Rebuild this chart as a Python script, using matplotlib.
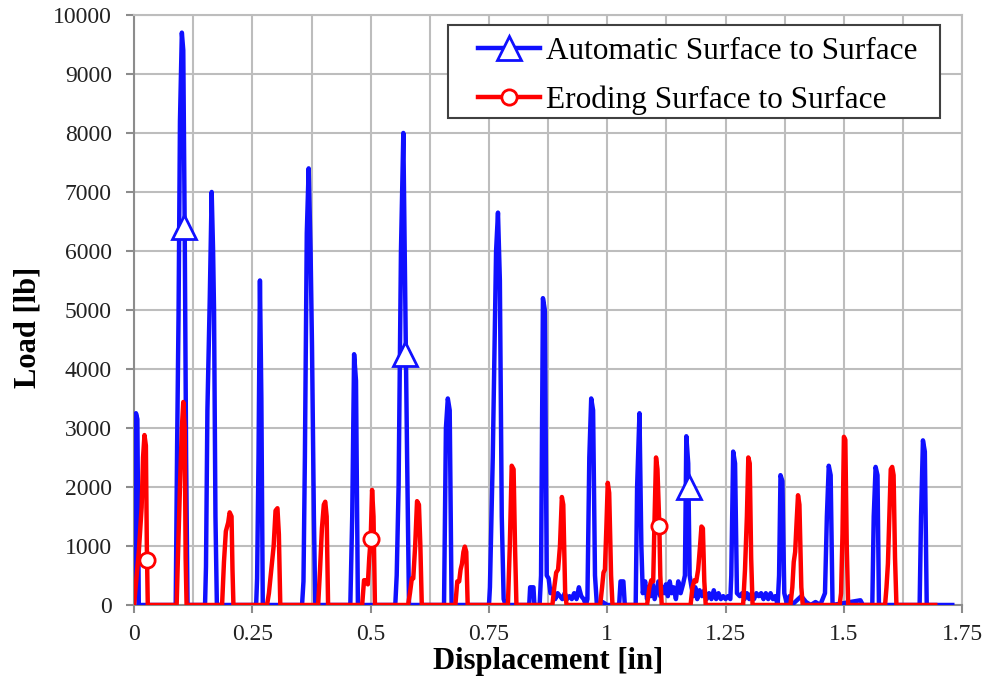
import matplotlib
matplotlib.use("Agg")
import matplotlib.pyplot as plt
from matplotlib.patches import Rectangle
from matplotlib.ticker import MultipleLocator, FuncFormatter

# Automatic Surface to Surface contact (blue)
auto_x = [0.000, 0.002, 0.004, 0.007, 0.010,
          0.088, 0.091, 0.094, 0.097, 0.101, 0.104, 0.107, 0.110, 0.113,
          0.150, 0.152, 0.155, 0.160, 0.164, 0.167, 0.169, 0.172, 0.175,
          0.258, 0.260, 0.263, 0.266, 0.269, 0.272,
          0.355, 0.358, 0.361, 0.365, 0.369, 0.373, 0.376, 0.380, 0.383,
          0.457, 0.461, 0.465, 0.469, 0.473,
          0.552, 0.555, 0.559, 0.564, 0.569, 0.573, 0.577, 0.581,
          0.655, 0.659, 0.663, 0.667, 0.671,
          0.750, 0.752, 0.758, 0.765, 0.769, 0.773, 0.777, 0.781,
          0.785, 0.835, 0.837, 0.844, 0.846,
          0.857, 0.860, 0.864, 0.868, 0.872, 0.876, 0.880, 0.885, 0.890,
          0.895, 0.900, 0.905, 0.910, 0.915, 0.920, 0.925, 0.930, 0.935,
          0.940, 0.945, 0.950, 0.955,
          0.958, 0.962, 0.966, 0.970, 0.974, 0.978, 0.990, 1.000,
          1.025, 1.028, 1.034, 1.037,
          1.060, 1.063, 1.068, 1.072, 1.075, 1.080, 1.084, 1.088, 1.092,
          1.096, 1.100, 1.104, 1.108, 1.112, 1.116, 1.120, 1.124, 1.128,
          1.132, 1.136, 1.140, 1.145, 1.150, 1.155, 1.160,
          1.164, 1.167, 1.171, 1.174, 1.178, 1.182, 1.186, 1.190, 1.195,
          1.200, 1.205, 1.210, 1.215, 1.220, 1.225, 1.230, 1.235, 1.240,
          1.245, 1.250, 1.255, 1.260,
          1.262, 1.266, 1.270, 1.274, 1.280, 1.285, 1.290, 1.295, 1.300,
          1.305, 1.310, 1.315, 1.320, 1.325, 1.330, 1.335, 1.340, 1.345,
          1.350, 1.355, 1.360,
          1.363, 1.366, 1.370, 1.374, 1.380, 1.385, 1.390, 1.410, 1.420,
          1.430, 1.440, 1.450, 1.455,
          1.460, 1.464, 1.468, 1.472, 1.476, 1.535, 1.540,
          1.560, 1.563, 1.567, 1.571, 1.574,
          1.660, 1.663, 1.667, 1.671, 1.675, 1.729]
auto_y = [0, 1800, 3250, 3150, 0,
          0, 2700, 4900, 8200, 9700, 9400, 6400, 2500, 0,
          0, 650, 3300, 5200, 7000, 6000, 5000, 1500, 0,
          0, 450, 2500, 5500, 3500, 0,
          0, 400, 2500, 6300, 7400, 6000, 4400, 1500, 0,
          0, 1500, 4250, 3800, 0,
          0, 500, 2000, 6000, 8000, 5200, 2500, 0,
          0, 3000, 3500, 3300, 0,
          0, 300, 2500, 6000, 6650, 5500, 1500, 100,
          0, 0, 300, 300, 0,
          0, 500, 5200, 5000, 500, 450, 200, 250, 100,
          200, 150, 100, 200, 100, 150, 100, 200, 100,
          300, 150, 100, 0,
          100, 2500, 3500, 3300, 500, 0, 50, 0,
          0, 400, 400, 0,
          0, 2000, 3250, 1000, 200, 400, 100, 300, 150,
          350, 100, 250, 400, 150, 300, 200, 350, 150,
          400, 200, 300, 100, 400, 200, 350,
          500, 2860, 2400, 500, 300, 150, 300, 100, 250,
          150, 250, 100, 200, 100, 250, 100, 200, 100,
          150, 100, 150, 100,
          500, 2600, 2400, 200, 150, 200, 100, 200, 100,
          200, 100, 200, 150, 200, 100, 200, 100, 200,
          100, 150, 0,
          500, 2200, 2100, 200, 0, 150, 0, 150, 50,
          0, 50, 0, 100,
          200, 1500, 2360, 2200, 0, 80, 0,
          0, 1500, 2340, 2200, 0,
          0, 1500, 2790, 2600, 0, 0]

# Eroding Surface to Surface contact (red)
erode_x = [0.000, 0.010, 0.016, 0.019, 0.022, 0.025, 0.027, 0.029,
           0.090, 0.093, 0.097, 0.101, 0.104, 0.107, 0.109, 0.111,
           0.186, 0.190, 0.194, 0.199, 0.202, 0.206, 0.208, 0.210,
           0.281, 0.285, 0.290, 0.295, 0.299, 0.303, 0.306, 0.309,
           0.389, 0.393, 0.397, 0.401, 0.404, 0.407, 0.410,
           0.482, 0.486, 0.490, 0.494, 0.497, 0.500, 0.503, 0.506, 0.509,
           0.579, 0.583, 0.587, 0.590, 0.594, 0.598, 0.602, 0.605, 0.608,
           0.679, 0.683, 0.687, 0.690, 0.693, 0.696, 0.699, 0.702, 0.705,
           0.790, 0.794, 0.798, 0.802, 0.805, 0.808,
           0.884, 0.888, 0.892, 0.896, 0.900, 0.904, 0.907, 0.911, 0.914,
           0.985, 0.989, 0.992, 0.995, 0.998, 1.001, 1.004, 1.008, 1.011,
           1.084, 1.089, 1.093, 1.097, 1.100, 1.103, 1.106, 1.110, 1.112, 1.115,
           1.176, 1.180, 1.184, 1.188, 1.192, 1.196, 1.199, 1.202, 1.205, 1.208,
           1.287, 1.291, 1.295, 1.298, 1.301, 1.304, 1.307,
           1.387, 1.391, 1.394, 1.397, 1.400, 1.403, 1.406, 1.410, 1.413,
           1.491, 1.494, 1.497, 1.500, 1.503, 1.506, 1.509,
           1.587, 1.590, 1.593, 1.596, 1.599, 1.602, 1.605, 1.608, 1.611, 1.693]
erode_y = [0, 900, 1650, 2500, 2880, 2700, 1000, 0,
           0, 900, 2000, 3000, 3440, 3000, 800, 0,
           0, 730, 1250, 1400, 1570, 1500, 600, 0,
           0, 200, 600, 1000, 1600, 1640, 1200, 0,
           0, 600, 1300, 1700, 1750, 1500, 0,
           0, 420, 420, 350, 800, 1120, 1950, 1500, 0,
           0, 200, 450, 450, 1000, 1760, 1700, 1000, 0,
           0, 400, 400, 600, 700, 900, 990, 900, 0,
           0, 1000, 2360, 2300, 1000, 0,
           0, 300, 550, 600, 1000, 1830, 1700, 200, 0,
           0, 300, 550, 600, 1300, 2070, 1900, 500, 0,
           0, 300, 420, 400, 1500, 2500, 2300, 1340, 500, 0,
           0, 300, 420, 400, 600, 1000, 1330, 1300, 400, 0,
           0, 600, 1500, 2500, 2400, 800, 0,
           0, 300, 730, 900, 1400, 1860, 1700, 300, 0,
           0, 200, 1200, 2850, 2800, 1000, 0,
           0, 300, 700, 1500, 2300, 2340, 2200, 800, 0, 0]

# marker positions as drawn on the curves
auto_mark_x = [0.106, 0.573, 1.173]
auto_mark_y = [6400, 4250, 2000]
erode_mark_x = [0.027, 0.501, 1.110]
erode_mark_y = [760, 1120, 1340]

plt.rcParams['font.family'] = ['Liberation Serif', 'DejaVu Serif']

fig = plt.figure(figsize=(9.93, 6.79), dpi=100)
ax = fig.add_axes([0.135, 0.109, 0.834, 0.869])

blue = '#1010ff'
red = '#ff0000'

ax.plot(auto_x, auto_y, '-', color=blue, lw=3.2, solid_joinstyle='round', zorder=3)
ax.plot(erode_x, erode_y, '-', color=red, lw=3.2, solid_joinstyle='round', zorder=4)
ax.plot(auto_mark_x, auto_mark_y, '^', ms=17, mfc='white', mec=blue, mew=2, zorder=5)
ax.plot(erode_mark_x, erode_mark_y, 'o', ms=11, mfc='white', mec=red, mew=2, zorder=5)

# legend proxies
ax.plot([], [], '-^', color=blue, lw=3.2, ms=17, mfc='white', mec=blue, mew=2,
        label='Automatic Surface to Surface')
ax.plot([], [], '-o', color=red, lw=3.2, ms=11, mfc='white', mec=red, mew=2,
        label='Eroding Surface to Surface')

ax.set_xlim(0, 1.75)
ax.set_ylim(0, 10000)
ax.xaxis.set_major_locator(MultipleLocator(0.25))
ax.xaxis.set_minor_locator(MultipleLocator(0.125))
ax.yaxis.set_major_locator(MultipleLocator(1000))
ax.xaxis.set_major_formatter(FuncFormatter(lambda v, p: f'{v:g}'))

ax.grid(True, which='both', color='#bdbdbd', lw=1.5)
ax.set_axisbelow(True)
for side in ['top', 'right']:
    ax.spines[side].set_color('#bdbdbd')
    ax.spines[side].set_linewidth(1.5)
for side in ['left', 'bottom']:
    ax.spines[side].set_color('#8c8c8c')
    ax.spines[side].set_linewidth(1.5)
ax.tick_params(which='major', direction='out', length=6, width=1.5,
               color='#8c8c8c', labelsize=17, labelcolor='#222222')
ax.tick_params(axis='x', which='major', pad=8)
ax.tick_params(axis='y', which='major', pad=10)
ax.tick_params(which='minor', length=0)

ax.set_xlabel('Displacement [in]', fontsize=22, fontweight='bold', labelpad=1)
ax.set_ylabel('Load [lb]', fontsize=22, fontweight='bold')
ax.yaxis.set_label_coords(-0.11, 0.47)

# legend box drawn separately: wide side margins, tight top/bottom
ax.add_patch(Rectangle((0.379, 0.825), 0.594, 0.158, transform=ax.transAxes,
                       facecolor='white', edgecolor='#404040', lw=1.5, zorder=6))
leg = ax.legend(loc='upper left', bbox_to_anchor=(0.415, 0.963), fontsize=22.5,
                frameon=False, handlelength=2.0, handletextpad=0.2,
                borderpad=0, borderaxespad=0, labelspacing=0.62)
leg.set_zorder(7)

fig.savefig('out.png', dpi=100)
